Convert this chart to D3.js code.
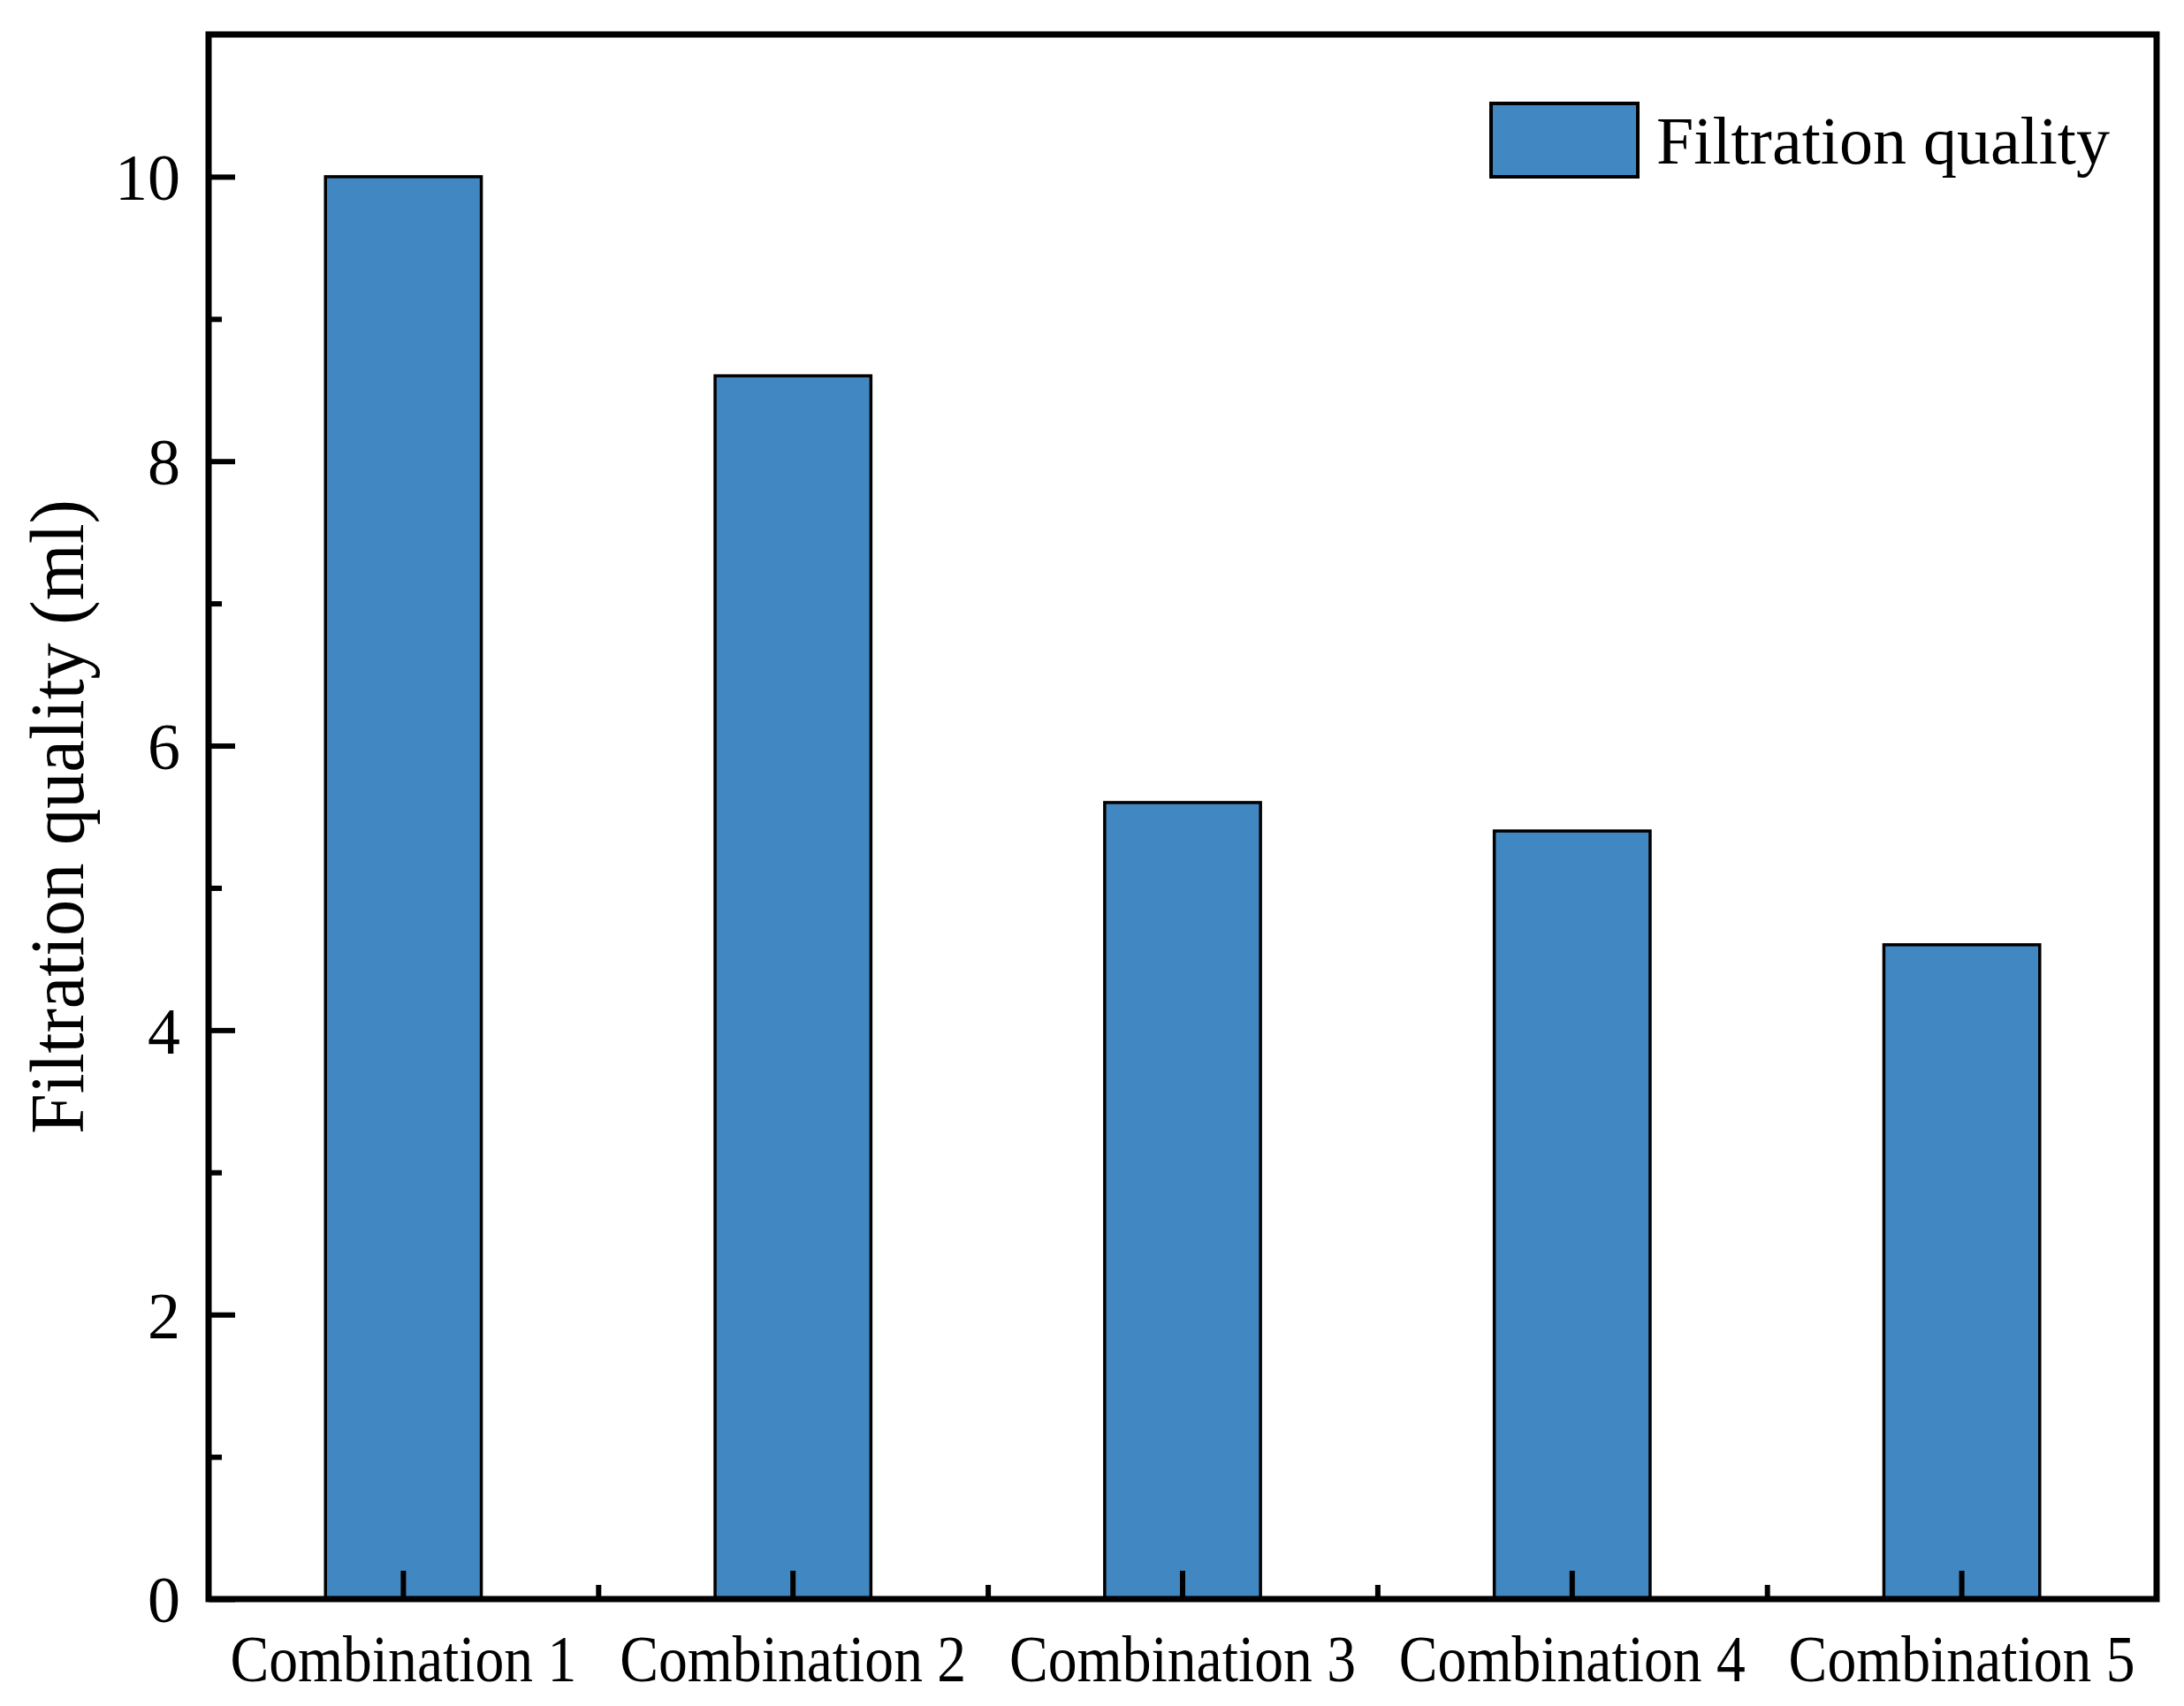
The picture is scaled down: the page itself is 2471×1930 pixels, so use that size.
<!DOCTYPE html>
<html>
<head>
<meta charset="utf-8">
<script src="https://cdn.jsdelivr.net/npm/d3@7"></script>
<style>
  body { margin: 0; background: #fff; }
  text { font-family: "Liberation Serif", "Times New Roman", serif; fill: #000; }
</style>
</head>
<body>
<div id="chart"></div>
<script>
let categories = ['Combination 1', 'Combination 2', 'Combination 3', 'Combination 4', 'Combination 5'];
let values = [10, 8.6, 5.6, 5.4, 4.6];
let majorTicks = [0, 2, 4, 6, 8, 10];
let minorTicks = [1, 3, 5, 7, 9];
let seriesName = 'Filtration quality';
let yTitle = 'Filtration quality (ml)';

let W = 2471, H = 1930;
let margin = { top: 39, right: 31, bottom: 121, left: 236 },
    width = W - margin.left - margin.right,
    height = H - margin.top - margin.bottom;

let barColor = '#4187c1';

let svg = d3.select('#chart')
    .append('svg')
        .attr('width', W)
        .attr('height', H)
    .append('g')
        .attr('transform', 'translate(' + margin.left + ',' + margin.top + ')');

let x = d3.scaleBand()
    .domain(categories)
    .range([0, width])
    .paddingInner(0.6)
    .paddingOuter(0.3);

// used only for the minor ticks between the groups
let xMinor = d3.scaleLinear()
    .domain([0, categories.length])
    .range([0, width]);

let y = d3.scaleLinear()
    .domain([0, 11])
    .range([height, 0]);

// bars
svg.selectAll('.bar')
    .data(values)
    .enter()
    .append('rect')
        .attr('class', 'bar')
        .attr('x', (d, i) => x(categories[i]))
        .attr('y', d => y(d))
        .attr('width', x.bandwidth())
        .attr('height', d => height - y(d))
        .style('fill', barColor)
        .style('stroke', '#000')
        .style('stroke-width', 3.5);

// y axis, ticks pointing inward
let yAxis = svg.append('g')
    .call(d3.axisLeft(y).tickValues(majorTicks).tickSizeInner(-30).tickSizeOuter(0).tickPadding(32));
yAxis.select('.domain').remove();
yAxis.selectAll('line').style('stroke', '#000').style('stroke-width', 6);
yAxis.selectAll('text').style('font-size', '74px').attr('dy', '0.35em');

let yMinor = svg.append('g')
    .call(d3.axisLeft(y).tickValues(minorTicks).tickSizeInner(-15).tickSizeOuter(0).tickFormat(''));
yMinor.select('.domain').remove();
yMinor.selectAll('line').style('stroke', '#000').style('stroke-width', 6);

// x axis
let xAxis = svg.append('g')
    .attr('transform', 'translate(0,' + height + ')')
    .call(d3.axisBottom(x).tickSizeInner(-32).tickSizeOuter(0).tickPadding(0));
xAxis.select('.domain').remove();
xAxis.selectAll('line').style('stroke', '#000').style('stroke-width', 6);
xAxis.selectAll('text')
    .attr('y', 93)
    .attr('dy', 0)
    .attr('textLength', 392)
    .attr('lengthAdjust', 'spacingAndGlyphs')
    .style('font-size', '74px');

let xMinorAxis = svg.append('g')
    .attr('transform', 'translate(0,' + height + ')')
    .call(d3.axisBottom(xMinor).tickValues([1, 2, 3, 4]).tickSizeInner(-16).tickSizeOuter(0).tickFormat(''));
xMinorAxis.select('.domain').remove();
xMinorAxis.selectAll('line').style('stroke', '#000').style('stroke-width', 6);

// frame
svg.append('rect')
    .attr('x', 0)
    .attr('y', 0)
    .attr('width', width)
    .attr('height', height)
    .style('fill', 'none')
    .style('stroke', '#000')
    .style('stroke-width', 7);

// y title
svg.append('text')
    .attr('transform', 'rotate(-90)')
    .attr('x', -height / 2)
    .attr('y', 94 - margin.left)
    .attr('textLength', 718)
    .attr('lengthAdjust', 'spacingAndGlyphs')
    .style('text-anchor', 'middle')
    .style('font-size', '86px')
    .text(yTitle);

// legend
let legend = svg.append('g')
    .attr('transform', 'translate(' + (1687 - margin.left) + ',' + (117 - margin.top) + ')');
legend.append('rect')
    .attr('width', 166)
    .attr('height', 83)
    .style('fill', barColor)
    .style('stroke', '#000')
    .style('stroke-width', 4);
legend.append('text')
    .attr('x', 187)
    .attr('y', 68)
    .style('font-size', '76px')
    .text(seriesName);
</script>
</body>
</html>
